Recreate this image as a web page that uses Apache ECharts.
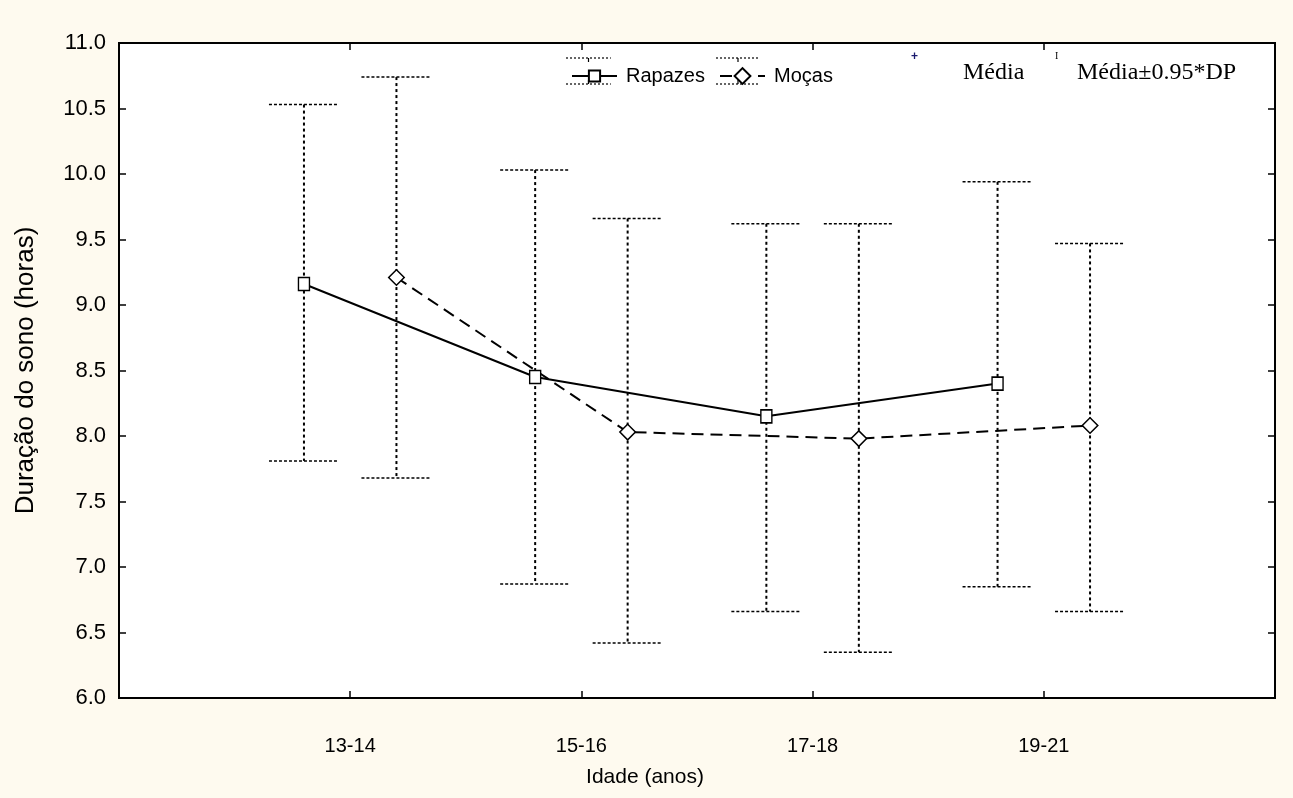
<!DOCTYPE html>
<html><head><meta charset="utf-8">
<script src="https://cdn.jsdelivr.net/npm/echarts@6/dist/echarts.min.js"></script>
<style>html,body{margin:0;padding:0;background:#fefaef}#c{width:1293px;height:798px}</style>
</head><body><div id="c"></div>
<script>
const categories = ['13-14', '15-16', '17-18', '19-21'];
const rapazesMean = [9.16, 8.45, 8.15, 8.40];
const rapazesHigh = [10.53, 10.03, 9.62, 9.94];
const rapazesLow  = [7.81, 6.87, 6.66, 6.85];
const mocasMean = [9.21, 8.03, 7.98, 8.08];
const mocasHigh = [10.74, 9.66, 9.62, 9.47];
const mocasLow  = [7.68, 6.42, 6.35, 6.66];
const yMin = 6, yMax = 11, yStep = 0.5;
const groupOffset = 0.2;

const xR = categories.map((c, i) => i + 1 - groupOffset);
const xM = categories.map((c, i) => i + 1 + groupOffset);

const chart = echarts.init(document.getElementById('c'));
const sans = '"Liberation Sans", Arial, sans-serif';
const serif = '"Liberation Serif", "Times New Roman", serif';

function errRender(params, api) {
  const x = api.value(0), lo = api.value(1), hi = api.value(2);
  const pHi = api.coord([x, hi]), pLo = api.coord([x, lo]);
  const hw = 35;
  const dot = {stroke: '#000', lineWidth: 2, lineDash: [3, 3], fill: null};
  const cap = {stroke: '#000', lineWidth: 1.5, lineDash: [3, 2], fill: null};
  return {type: 'group', children: [
    {type: 'line', shape: {x1: pHi[0], y1: pHi[1], x2: pLo[0], y2: pLo[1]}, style: dot},
    {type: 'line', shape: {x1: pHi[0] - hw, y1: pHi[1], x2: pHi[0] + hw, y2: pHi[1]}, style: cap},
    {type: 'line', shape: {x1: pLo[0] - hw, y1: pLo[1], x2: pLo[0] + hw, y2: pLo[1]}, style: cap}
  ]};
}

const legendDeco = [];
[[566, 611], [716, 760]].forEach(([a, b]) => {
  const mid = (a + b) / 2;
  [58, 84].forEach(y => {
    legendDeco.push({type: 'line', shape: {x1: a, y1: y, x2: b, y2: y},
      style: {stroke: '#000', lineWidth: 1.2, lineDash: [2, 2]}});
    legendDeco.push({type: 'line', shape: {x1: mid, y1: y, x2: mid, y2: y + (y < 70 ? 4 : -4)},
      style: {stroke: '#000', lineWidth: 1.2}});
  });
});

const tickStyle = {show: true, inside: true, length: 7, lineStyle: {color: '#000', width: 1.5}};
const lineStyleAxis = {show: true, onZero: false, lineStyle: {color: '#000', width: 2}};

const option = {
  backgroundColor: '#fefaef',
  animation: false,
  grid: {left: 119, right: 18, top: 43, bottom: 100, show: true, backgroundColor: '#ffffff',
         borderColor: '#000', borderWidth: 2},
  legend: [
    {data: ['Rapazes'], left: 566, top: 61, itemWidth: 45, itemHeight: 14, itemGap: 0,
     textStyle: {fontFamily: sans, fontSize: 20, color: '#000', padding: [0, 0, 0, 4]}},
    {data: ['Moças'], left: 714, top: 61, itemWidth: 45, itemHeight: 14, itemGap: 0,
     textStyle: {fontFamily: sans, fontSize: 20, color: '#000', padding: [0, 0, 0, 4]}}
  ],
  graphic: legendDeco.concat([
    {type: 'text', left: 911, top: 51, style: {text: '+', fill: '#1a1a6e', font: 'bold 12px ' + sans}},
    {type: 'text', left: 963, top: 61, style: {text: 'Média', fill: '#000', font: '24px ' + serif}},
    {type: 'text', left: 1055, top: 51, style: {text: 'I', fill: '#000', font: '10px ' + serif}},
    {type: 'text', left: 1077, top: 61, style: {text: 'Média±0.95*DP', fill: '#000', font: '24px ' + serif}}
  ]),
  xAxis: [
    {type: 'value', min: 0, max: 5, interval: 1, position: 'bottom',
     name: 'Idade (anos)', nameLocation: 'middle', nameGap: 69,
     nameTextStyle: {fontFamily: sans, fontSize: 21, color: '#000', padding: [0, 104, 0, 0]},
     axisLine: lineStyleAxis, splitLine: {show: false},
     axisTick: tickStyle,
     axisLabel: {margin: 38, fontFamily: sans, fontSize: 20, color: '#000',
       formatter: v => (v >= 1 && v <= categories.length && Number.isInteger(v)) ? categories[v - 1] : ''}},
    {type: 'value', min: 0, max: 5, interval: 1, position: 'top',
     axisLine: lineStyleAxis, splitLine: {show: false}, axisLabel: {show: false},
     axisTick: tickStyle}
  ],
  yAxis: [
    {type: 'value', min: yMin, max: yMax, interval: yStep, position: 'left',
     name: 'Duração do sono (horas)', nameLocation: 'middle', nameGap: 80, nameRotate: 90,
     nameTextStyle: {fontFamily: sans, fontSize: 26, color: '#000'},
     axisLine: lineStyleAxis, splitLine: {show: false},
     axisTick: tickStyle,
     axisLabel: {margin: 13, fontFamily: sans, fontSize: 22, color: '#000', formatter: v => v.toFixed(1)}},
    {type: 'value', min: yMin, max: yMax, interval: yStep, position: 'right',
     axisLine: lineStyleAxis, splitLine: {show: false}, axisLabel: {show: false},
     axisTick: tickStyle}
  ],
  series: [
    {name: 'errR', type: 'custom', renderItem: errRender, z: 1,
     encode: {x: 0, y: [1, 2]}, data: xR.map((x, i) => [x, rapazesLow[i], rapazesHigh[i]])},
    {name: 'errM', type: 'custom', renderItem: errRender, z: 1,
     encode: {x: 0, y: [1, 2]}, data: xM.map((x, i) => [x, mocasLow[i], mocasHigh[i]])},
    {name: 'Rapazes', type: 'line', z: 3, data: xR.map((x, i) => [x, rapazesMean[i]]),
     lineStyle: {color: '#000', width: 2, type: 'solid'},
     symbol: 'rect', symbolSize: [11, 13],
     itemStyle: {color: '#ffffff', borderColor: '#000', borderWidth: 1.5}},
    {name: 'Moças', type: 'line', z: 3, data: xM.map((x, i) => [x, mocasMean[i]]),
     lineStyle: {color: '#000', width: 2, type: [12, 7]},
     symbol: 'rect', symbolRotate: 45, symbolSize: 11,
     itemStyle: {color: '#ffffff', borderColor: '#000', borderWidth: 1.5}}
  ]
};
chart.setOption(option);
</script></body></html>
